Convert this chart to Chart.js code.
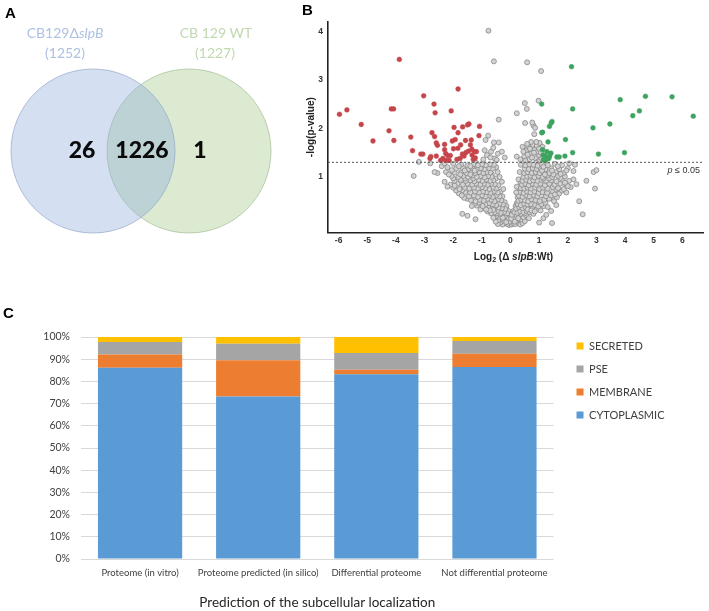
<!DOCTYPE html>
<html lang="en">
<head>
<meta charset="UTF-8">
<title>CB129 slpB proteome</title>
<script src="https://cdn.jsdelivr.net/npm/chart.js"></script>
<style>
  body { margin: 0; background: #fff; }
  #wrap { position: relative; width: 709px; height: 611px; overflow: hidden; }
  canvas { position: absolute; }
  .panel { position: absolute; font: bold 15px "Liberation Sans", Arial, sans-serif; color: #000; }
</style>
</head>
<body>
<div id="wrap">
  <canvas id="venn" width="290" height="270" style="left:0;top:0"></canvas>
  <canvas id="volcano" width="419" height="275" style="left:290px;top:0"></canvas>
  <canvas id="bars" width="709" height="311" style="left:0;top:300px"></canvas>
  <div class="panel" style="left:5px;top:4px">A</div>
  <div class="panel" style="left:302px;top:1px">B</div>
  <div class="panel" style="left:3px;top:304px">C</div>
</div>

<script>
// --- Venn (panel A)
const vennSets = ['CB129Δ', 'CB 129 WT'];
const vennTotals = [1252, 1227];
const vennOnly = [26, 1];
const vennShared = 1226;

// --- volcano (panel B), [log2 fold change, -log10 p]
const pLog = 1.301;
const volcanoXTicks = [-6, -5, -4, -3, -2, -1, 0, 1, 2, 3, 4, 5, 6];
const volcanoYTicks = [1, 2, 3, 4];

const redPoints = [
  [-5.97,2.29],[-5.71,2.38],[-5.21,2.08],[-4.80,1.74],[-4.24,1.95],[-4.16,2.40],[-4.08,2.40],[-4.07,1.75],
  [-3.88,3.42],[-3.48,1.82],[-3.42,1.54],[-3.13,1.47],[-3.06,1.47],[-3.03,2.67],[-2.81,1.38],[-2.78,1.42],
  [-2.74,1.91],[-2.67,2.50],[-2.65,1.83],[-2.63,2.32],[-2.59,1.70],[-2.59,1.43],[-2.55,1.65],[-2.44,1.34],
  [-2.36,1.38],[-2.30,1.67],[-2.30,1.56],[-2.26,1.48],[-2.19,1.44],[-2.14,1.34],[-2.10,1.44],[-2.07,2.36],
  [-2.03,1.74],[-1.99,1.58],[-1.97,2.02],[-1.93,1.77],[-1.87,1.36],[-1.84,1.59],[-1.83,1.91],[-1.83,2.81],
  [-1.74,1.66],[-1.67,2.03],[-1.62,1.43],[-1.57,1.75],[-1.56,1.50],[-1.50,2.07],[-1.47,1.53],[-1.45,2.09],
  [-1.40,1.66],[-1.37,1.76],[-1.35,1.57],[-1.34,1.45],[-1.30,1.36],[-1.26,1.52],[-1.19,1.52],[-1.10,1.85],
  [-1.08,2.04],[-1.68,1.47],[-1.23,1.39],[-1.76,1.38],[-2.25,1.34]
];
const greenPoints = [
  [2.13,3.27],[1.09,2.50],[2.17,2.40],[3.83,2.59],[4.71,2.66],[5.64,2.65],[4.50,2.36],[4.27,2.26],
  [6.38,2.25],[1.45,2.14],[1.42,2.11],[1.36,2.04],[2.88,2.01],[3.47,2.09],[1.12,1.92],[1.09,1.91],
  [1.92,1.77],[1.31,1.72],[1.12,1.56],[1.27,1.52],[1.41,1.49],[2.17,1.50],[3.07,1.47],[3.98,1.50],
  [1.14,1.45],[1.22,1.43],[1.37,1.43],[1.62,1.41],[1.70,1.41],[1.90,1.43],[1.15,1.35],[1.23,1.34],[1.34,1.38]
];
const grayPoints = [
  [-0.77,4.01],[-0.58,3.38],[0.58,3.36],[1.07,3.18],[0.98,2.57],[0.50,2.52],[0.57,2.40],[0.22,2.31],
  [-0.41,2.18],[0.51,2.11],[0.80,2.06],[0.76,2.12],[0.86,2.01],[0.83,1.88],[-0.78,1.85],[-0.41,1.71],
  [-0.58,1.71],[-0.87,1.76],[-3.38,1.02],[-3.20,1.31],
  [-0.82,1.45],[-0.44,1.48],[-0.68,1.52],[-0.55,1.38],[-0.95,1.36],[0.48,1.42],[0.55,1.55],[0.62,1.62],
  [0.70,1.48],[0.78,1.66],[0.85,1.56],[0.92,1.64],[0.98,1.45],[1.02,1.70],[0.66,1.36],[0.88,1.38],
  [1.05,1.35],[0.72,1.72],[0.95,1.52],[0.60,1.46],[0.22,1.42],[0.42,1.62],[-0.30,1.52],[-0.20,1.40],
  [0.35,1.36],[1.12,1.62],[1.00,1.58],
  [0.45,1.52],[0.52,1.33],[0.58,1.68],[0.68,1.58],[0.75,1.40],[0.82,1.50],[0.90,1.72],[0.96,1.32],
  [1.06,1.50],[-0.60,1.60],[-0.70,1.40],[-0.90,1.55],[-0.48,1.35],
  [-0.05,0.01],[0.04,0.02],[-0.12,0.03],[0.10,0.04],[-0.20,0.05],[0.17,0.03],[-0.28,0.02],[0.26,0.06],
  [-0.36,0.06],[0.34,0.02],[-0.44,0.03],[0.42,0.05],[-0.02,0.08],[0.08,0.11],[-0.15,0.12],[0.20,0.10],
  [-0.24,0.10],[0.30,0.13],[-0.32,0.14],[0.40,0.12],[-0.42,0.11],[0.50,0.09],[-0.52,0.08],[0.12,0.17],
  [-0.08,0.16],[-0.20,0.19],[0.22,0.20],[-0.30,0.21],[0.32,0.19],[-0.40,0.18],[0.45,0.17],[-0.50,0.20],
  [0.55,0.21],[-0.60,0.16],[0.64,0.15],[0.02,0.14],
  [-0.15,0.07],[0.15,0.08],[-0.27,0.16],[0.27,0.15],[-0.37,0.23],[0.37,0.24],[-0.48,0.25],[0.50,0.25],
  [-0.04,0.23],[0.05,0.22],[-0.08,0.30],[0.10,0.30],[-0.14,0.40],[0.18,0.40],[-0.20,0.48],[0.22,0.46],
  [-0.28,0.60],[0.25,0.58],[-0.35,0.70],[0.30,0.72],[-0.42,0.83],[0.35,0.88],[-0.50,0.97],[0.50,1.04],
  [-0.65,1.05],[0.55,1.13],[-0.80,1.13],[0.70,1.21],[-0.95,1.21],[0.90,1.29],[-1.20,1.29],
  [-0.12,0.25],[0.14,0.27],[-0.22,0.28],[0.24,0.26],[-0.34,0.26],[0.34,0.29],[-0.45,0.30],[0.45,0.28],
  [-0.56,0.27],[0.56,0.30],[-0.68,0.25],[0.68,0.27],[-0.80,0.29],[0.80,0.24],[-0.18,0.34],[0.20,0.35],
  [-0.30,0.36],[0.30,0.38],[-0.42,0.37],[0.42,0.36],[-0.54,0.39],[0.54,0.37],[-0.66,0.35],[0.66,0.39],
  [-0.78,0.38],[0.78,0.36],[-0.92,0.36],[0.92,0.34],[-1.05,0.33],[1.05,0.31],[-0.26,0.43],[0.26,0.44],
  [-0.38,0.45],[0.36,0.42],[-0.50,0.42],[0.48,0.45],[-0.62,0.44],[0.60,0.43],[-0.75,0.46],[0.72,0.44],
  [-0.88,0.43],[0.86,0.42],[-1.02,0.44],[1.00,0.46],[-1.18,0.41],[1.16,0.40],[-1.50,0.20],[-1.22,0.13],[1.30,0.38],
  [-0.60,0.32],[0.60,0.33],[-0.72,0.31],[0.73,0.31],[-0.85,0.33],[0.85,0.29],[-0.97,0.40],[0.97,0.39],
  [-1.10,0.47],[1.08,0.44],[-1.25,0.45],[1.22,0.47],[-1.30,0.56],[1.28,0.57],[-1.50,0.55],[1.45,0.56],
  [-0.32,0.52],[0.28,0.51],[-0.44,0.54],[0.38,0.53],[-0.56,0.50],[0.50,0.52],[-0.68,0.53],[0.62,0.50],
  [-0.80,0.55],[0.74,0.54],[-0.94,0.51],[0.88,0.52],[-1.08,0.53],[1.02,0.50],[-1.22,0.50],[1.18,0.53],
  [-1.38,0.52],[1.35,0.55],[1.52,0.50],[-0.38,0.60],[0.30,0.61],[-0.50,0.62],[0.42,0.59],[-0.62,0.59],
  [0.55,0.62],[-0.74,0.62],[0.67,0.60],[-0.87,0.60],[0.80,0.63],[-1.00,0.62],[0.94,0.60],[-1.14,0.59],
  [1.08,0.62],[-1.28,0.62],[1.24,0.60],[-1.45,0.60],[1.42,0.62],[-1.62,0.57],[1.62,0.58],[-0.45,0.68],
  [0.34,0.69],[-0.58,0.70],[0.46,0.67],[-0.70,0.67],[0.58,0.70],[-0.83,0.69],[0.70,0.68],[-0.96,0.70],
  [0.84,0.70],[-1.10,0.68],[0.98,0.67],[-1.24,0.70],[1.12,0.69],[-1.40,0.68],[1.28,0.67],[-1.58,0.69],
  [1.48,0.70],[-1.80,0.66],[1.70,0.66],[1.95,0.68],[-1.68,0.24],[-1.35,0.40],[1.42,0.30],[1.60,0.42],
  [-1.70,0.62],[1.55,0.64],[-1.90,0.72],[1.80,0.72],[-1.68,0.73],[1.60,0.74],
  [-0.25,0.75],[0.20,0.68],[-0.30,0.90],[0.22,0.80],[-0.38,1.00],[0.28,0.95],[-0.45,1.10],[0.32,1.10],
  [-0.50,1.20],[0.36,1.25],
  [-0.50,0.76],[0.36,0.77],[-0.62,0.78],[0.48,0.76],[-0.74,0.75],[0.60,0.78],[-0.88,0.77],[0.72,0.76],
  [-1.00,0.79],[0.86,0.78],[-1.14,0.76],[1.00,0.75],[-1.28,0.78],[1.14,0.78],[-1.44,0.76],[1.30,0.76],
  [-1.60,0.78],[1.48,0.79],[-1.78,0.75],[1.66,0.77],[-2.00,0.78],[1.86,0.75],[2.10,0.79],[-0.55,0.85],
  [0.40,0.84],[-0.68,0.86],[0.52,0.86],[-0.80,0.84],[0.64,0.83],[-0.93,0.86],[0.77,0.86],[-1.06,0.84],
  [0.90,0.84],[-1.20,0.86],[1.04,0.86],[-1.34,0.84],[1.20,0.83],[-1.50,0.86],[1.36,0.86],[-1.66,0.84],
  [1.54,0.84],[-1.85,0.86],[1.74,0.86],[-2.10,0.84],[1.95,0.83],[2.30,0.85],[-0.60,0.93],[0.42,0.92],
  [-0.72,0.92],[0.55,0.94],[-0.85,0.94],[0.68,0.91],[-0.98,0.92],[0.80,0.93],[-1.12,0.94],[0.94,0.92],
  [-1.26,0.91],[1.08,0.94],[-1.40,0.93],[1.24,0.92],[-1.56,0.92],[1.42,0.93],[-1.74,0.94],[1.60,0.91],
  [-1.95,0.92],[1.82,0.94],[2.05,0.92],[2.65,0.92],[2.95,0.76],[2.40,0.50],[2.52,0.23],[1.45,0.05],
  [1.00,0.06],[1.15,0.15],[1.25,0.22],
  [-2.20,0.80],[2.00,0.81],[-1.95,0.82],[1.90,0.88],[-2.30,0.90],[2.20,0.95],[-1.30,0.97],[1.15,0.97],
  [-1.58,0.97],[1.35,0.97],[-2.00,0.97],[1.75,0.98],
  [-0.66,1.00],[0.45,1.00],[-0.78,1.02],[0.58,1.01],[-0.90,0.99],[0.70,1.03],[-1.04,1.02],[0.84,0.99],
  [-1.18,1.00],[0.98,1.02],[-1.32,1.03],[1.12,1.00],[-1.48,1.00],[1.28,1.03],[-1.64,1.02],[1.46,1.00],
  [-1.82,1.00],[1.66,1.02],[-2.05,1.02],[1.90,1.01],[-0.70,1.09],[0.48,1.08],[-0.84,1.10],[0.60,1.10],
  [-0.96,1.08],[0.74,1.08],[-1.10,1.10],[0.88,1.10],[-1.24,1.08],[1.02,1.08],[-1.38,1.10],[1.18,1.10],
  [-1.54,1.08],[1.36,1.08],[-1.72,1.10],[1.58,1.10],[-1.95,1.09],[1.85,1.08],[-2.25,1.10],[2.20,1.12],
  [-2.55,1.08],[2.90,1.10],[3.00,1.14],[-0.62,1.17],[0.50,1.17],[-0.76,1.18],[0.64,1.16],[-0.90,1.16],
  [0.78,1.18],[-1.04,1.18],[0.92,1.16],[-1.18,1.16],[1.06,1.18],[-1.32,1.18],[1.22,1.16],[-1.48,1.16],
  [1.42,1.18],[-1.66,1.18],[1.70,1.16],[-1.90,1.17],[2.00,1.18],[-2.20,1.20],[2.25,1.25],[-0.58,1.25],
  [0.52,1.24],[-0.72,1.26],[0.66,1.26],[-0.86,1.24],[0.80,1.25],[-1.00,1.26],[0.95,1.23],[-1.14,1.24],
  [1.10,1.26],[-1.30,1.26],[1.30,1.24],[-1.50,1.24],[1.55,1.27],[-1.72,1.26],[1.80,1.24],[-2.00,1.27],
  [-2.40,1.22],[-2.80,1.28],[-2.65,1.10],
  [-1.40,1.05],[1.20,1.05],[-1.75,1.05],[1.50,1.05],[-2.15,1.05],[1.75,1.06],[-1.25,1.13],[1.10,1.13],
  [-1.60,1.13],[1.45,1.13],[-2.05,1.14],[1.95,1.13],[-1.40,1.22],[1.15,1.21],[-1.80,1.22],[1.65,1.22],
  [-2.30,1.28],[2.05,1.28]
];

// --- stacked bars (panel C), percent of proteins
const barCategories = ['Proteome (in vitro)', 'Proteome predicted (in silico)', 'Differential proteome', 'Not differential proteome'];
const cytoplasmic = [86.1, 73.2, 83.2, 86.5];
const membrane = [6.0, 16.3, 2.1, 5.9];
const pse = [5.7, 7.5, 7.5, 5.8];
const secreted = [2.2, 3.0, 7.2, 1.8];

const calibri = 'Lato, "Open Sans", sans-serif';
const arial = '"Liberation Sans", Arial, sans-serif';

// draws pieces of text with different fonts, centred on x
function drawRuns(ctx, runs, x, y) {
  let total = 0;
  runs.forEach(r => { ctx.font = r.font; r.w = ctx.measureText(r.text).width; total += r.w; });
  let cx = x - total / 2;
  ctx.textAlign = 'left';
  ctx.textBaseline = 'middle';
  runs.forEach(r => {
    ctx.font = r.font;
    ctx.fillText(r.text, cx, y + (r.dy || 0));
    cx += r.w;
  });
}

const vennText = {
  id: 'vennText',
  afterDatasetsDraw(chart) {
    const ctx = chart.ctx, sx = chart.scales.x, sy = chart.scales.y;
    ctx.save();
    ctx.fillStyle = '#adc1e2';
    drawRuns(ctx, [{text: vennSets[0], font: '14px ' + calibri}, {text: 'slpB', font: 'italic 14px ' + calibri}], sx.getPixelForValue(65), sy.getPixelForValue(33));
    drawRuns(ctx, [{text: '(' + vennTotals[0] + ')', font: '14px ' + calibri}], sx.getPixelForValue(65), sy.getPixelForValue(53));
    ctx.fillStyle = '#c0d9b0';
    drawRuns(ctx, [{text: vennSets[1], font: '14px ' + calibri}], sx.getPixelForValue(216), sy.getPixelForValue(33));
    drawRuns(ctx, [{text: '(' + vennTotals[1] + ')', font: '14px ' + calibri}], sx.getPixelForValue(215), sy.getPixelForValue(53));
    ctx.fillStyle = '#0a0a0a';
    const big = '900 23px ' + calibri;
    drawRuns(ctx, [{text: String(vennOnly[0]), font: big}], sx.getPixelForValue(82), sy.getPixelForValue(151));
    drawRuns(ctx, [{text: String(vennShared), font: big}], sx.getPixelForValue(142), sy.getPixelForValue(151));
    drawRuns(ctx, [{text: String(vennOnly[1]), font: big}], sx.getPixelForValue(200), sy.getPixelForValue(151));
    ctx.restore();
  }
};

new Chart(document.getElementById('venn'), {
  type: 'bubble',
  data: {
    datasets: [
      { data: [{x: 93, y: 151, r: 82}], clip: false, backgroundColor: 'rgba(143,170,220,0.38)', borderColor: 'rgba(150,168,200,0.7)', borderWidth: 1 },
      { data: [{x: 189, y: 151, r: 82}], clip: false, backgroundColor: 'rgba(160,200,135,0.38)', borderColor: 'rgba(165,190,150,0.7)', borderWidth: 1 }
    ]
  },
  options: {
    responsive: false,
    animation: false,
    events: [],
    layout: { padding: 0, autoPadding: false },
    plugins: { legend: { display: false }, tooltip: { enabled: false } },
    scales: {
      x: { display: false, min: 0, max: 290 },
      y: { display: false, min: 0, max: 270, reverse: true }
    }
  },
  plugins: [vennText]
});

// volcano plot
const xMin = -6.37, xMax = 6.72;

const volcanoText = {
  id: 'volcanoText',
  afterDraw(chart) {
    const ctx = chart.ctx, a = chart.chartArea, sy = chart.scales.y;
    ctx.save();
    ctx.fillStyle = '#222';
    drawRuns(ctx, [
      {text: 'Log', font: 'bold 10px ' + arial},
      {text: '2', font: 'bold 7px ' + arial, dy: 3},
      {text: ' (Δ ', font: 'bold 10px ' + arial},
      {text: 'slpB', font: 'italic bold 10px ' + arial},
      {text: ':Wt)', font: 'bold 10px ' + arial}
    ], (a.left + a.right) / 2 - 2, 257);
    ctx.fillStyle = '#333';
    ctx.font = '9px ' + arial;
    ctx.textAlign = 'right';
    ctx.textBaseline = 'middle';
    const ypx = sy.getPixelForValue(pLog) + 8;
    ctx.fillText('≤ 0.05', a.right - 3, ypx);
    const w = ctx.measureText('≤ 0.05').width;
    ctx.font = 'italic 9px ' + arial;
    ctx.fillText('p ', a.right - 3 - w, ypx);
    ctx.restore();
  }
};

const toXY = arr => arr.map(p => ({x: p[0], y: p[1]}));

new Chart(document.getElementById('volcano'), {
  type: 'scatter',
  data: {
    datasets: [
      { data: [{x: xMin, y: pLog}, {x: xMax, y: pLog}], showLine: true, borderColor: '#555', borderWidth: 1, borderDash: [2, 2], pointRadius: 0 },
      { data: toXY(redPoints), backgroundColor: '#c4454a', borderColor: '#c4454a', borderWidth: 0.5, pointRadius: 2.4 },
      { data: toXY(greenPoints), backgroundColor: '#3da35f', borderColor: '#3da35f', borderWidth: 0.5, pointRadius: 2.4 },
      { data: toXY(grayPoints), backgroundColor: '#d2d2d2', borderColor: '#888', borderWidth: 0.8, pointRadius: 2.5 }
    ]
  },
  options: {
    responsive: false,
    animation: false,
    events: [],
    layout: { padding: { top: 22, right: 6, left: 0, bottom: 0 } },
    plugins: { legend: { display: false }, tooltip: { enabled: false } },
    scales: {
      x: {
        type: 'linear', min: xMin, max: xMax,
        afterBuildTicks: s => { s.ticks = volcanoXTicks.map(v => ({value: v})); },
        afterFit: s => { s.height = 42.7; },
        grid: { display: false, drawTicks: false },
        border: { display: true, color: '#222', width: 1.6 },
        ticks: { autoSkip: false, maxRotation: 0, padding: 3.3, color: '#333', font: { size: 8.5, weight: 'bold', family: arial } }
      },
      y: {
        type: 'linear', min: -0.14, max: 4.19,
        afterBuildTicks: s => { s.ticks = volcanoYTicks.map(v => ({value: v})); },
        afterFit: s => { s.width = 38; },
        grid: { display: false, drawTicks: false },
        border: { display: true, color: '#222', width: 1.6 },
        ticks: { padding: 5, color: '#333', font: { size: 8.5, weight: 'bold', family: arial } },
        title: { display: true, text: '-log(p-value)', color: '#222', padding: { top: 15.7, bottom: 0 }, font: { size: 10, weight: 'bold', family: arial } }
      }
    }
  },
  plugins: [volcanoText]
});

// stacked bars; legend nudged right to leave the gap seen in the figure
const shiftLegend = {
  id: 'shiftLegend',
  afterLayout(chart) {
    chart.legend.left += 11;
    chart.legend.right += 11;
  }
};

new Chart(document.getElementById('bars'), {
  type: 'bar',
  data: {
    labels: barCategories,
    datasets: [
      { label: 'CYTOPLASMIC', data: cytoplasmic, backgroundColor: '#5b9bd5' },
      { label: 'MEMBRANE', data: membrane, backgroundColor: '#ed7d31' },
      { label: 'PSE', data: pse, backgroundColor: '#a5a5a5' },
      { label: 'SECRETED', data: secreted, backgroundColor: '#ffc000' }
    ]
  },
  options: {
    responsive: false,
    animation: false,
    events: [],
    datasets: { bar: { categoryPercentage: 1, barPercentage: 0.713 } },
    layout: { padding: { top: 28.5, right: 45.5, left: 0, bottom: 0 } },
    plugins: {
      title: { display: true, text: '', padding: 0, font: { size: 8.5, lineHeight: 1 } },
      legend: {
        position: 'right',
        align: 'start',
        reverse: true,
        labels: { boxWidth: 7, boxHeight: 7, padding: 12, color: '#404040', font: { size: 11, family: calibri } }
      },
      tooltip: { enabled: false }
    },
    scales: {
      x: {
        stacked: true,
        afterFit: s => { s.height = 52; },
        grid: { display: false, drawTicks: false },
        border: { display: false },
        ticks: { autoSkip: false, maxRotation: 0, padding: 8.3, color: '#404040', font: { size: 9.5, family: calibri } },
        title: { display: true, text: 'Prediction of the subcellular localization', color: '#262626', padding: { top: 0, bottom: 0 }, font: { size: 13.5, family: calibri } }
      },
      y: {
        stacked: true, min: 0, max: 100,
        afterFit: s => { s.width = 81; },
        grid: { color: '#d9d9d9', drawTicks: false },
        border: { display: false },
        ticks: { stepSize: 10, padding: 11, color: '#404040', font: { size: 10.5, family: calibri }, callback: v => v + '%' }
      }
    }
  },
  plugins: [shiftLegend]
});
</script>
</body>
</html>
